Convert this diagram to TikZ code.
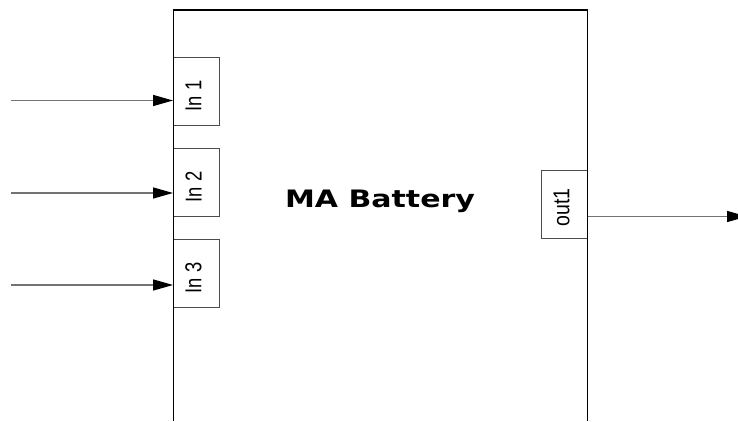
\documentclass[tikz,border=0pt]{standalone}
\usepackage{fontspec}
\setmainfont{Liberation Sans}
\newfontfamily\titlefont{DejaVu Sans}
\usetikzlibrary{arrows.meta}
\tikzset{
  portbox/.style={draw=black!70, line width=1pt, fill=white, minimum width=46pt, minimum height=68pt, inner sep=0pt},
  portlab/.style={rotate=90, inner sep=0pt, font=\fontsize{23}{23}\selectfont},
  sig/.style={draw=black!55, line width=1.4pt, -{Triangle[length=20pt,width=11pt,color=black]}},
  blockline/.style={draw=black, line width=1.3pt},
}
\begin{document}
\begin{tikzpicture}[x=1pt,y=-1pt]
\useasboundingbox (0,0) rectangle (738,421);
\fill[white] (0,0) rectangle (738,421);
% main block (open at the bottom)
\draw[blockline] (173.5,421) -- (173.5,10) -- (587.5,10) -- (587.5,421);
\node[inner sep=0pt] (title) at (380,201) {\scalebox{1.25}[1]{\titlefont\bfseries\fontsize{24}{24}\selectfont MA Battery}};
% ports
\node[portbox] (in1) at (196.5,91) {};
\node[portbox] (in2) at (196.5,182) {};
\node[portbox] (in3) at (196.5,273) {};
\node[portbox] (out1) at (564.5,204.5) {};
\draw[blockline] (173.5,40) -- (173.5,330);
\draw[blockline] (587.5,150) -- (587.5,260);
\node[portlab] (l1) at (193.5,96) {\scalebox{0.8}[1]{In 1}};
\node[portlab] (l2) at (193.5,187) {\scalebox{0.8}[1]{In 2}};
\node[portlab] (l3) at (193.5,278) {\scalebox{0.8}[1]{In 3}};
\node[portlab] (lo) at (561.5,207.5) {\scalebox{0.85}[1]{out1}};
% signals
\coordinate (s1) at (11,100.5);
\coordinate (s2) at (11,193);
\coordinate (s3) at (11,285);
\coordinate (o1) at (747,216.5);
\draw[sig] (s1) -- (s1 -| in1.west);
\draw[sig] (s2) -- (s2 -| in2.west);
\draw[sig] (s3) -- (s3 -| in3.west);
\draw[sig] (o1 -| out1.east) -- (o1);
\end{tikzpicture}
\end{document}
